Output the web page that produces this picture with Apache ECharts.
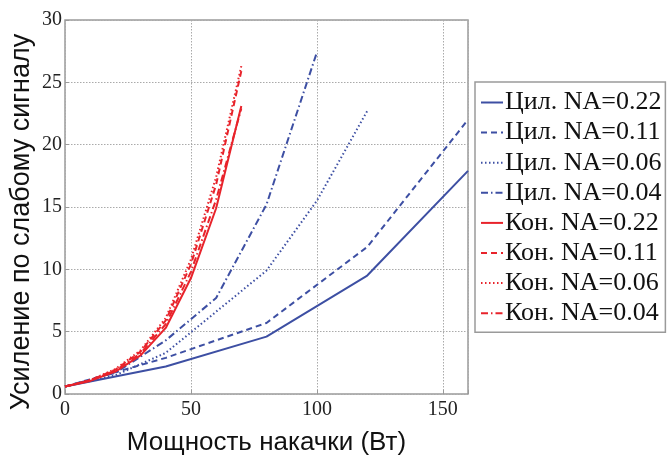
<!DOCTYPE html>
<html>
<head>
<meta charset="utf-8">
<script src="https://cdn.jsdelivr.net/npm/echarts@6/dist/echarts.min.js"></script>
<style>
  html, body { margin: 0; padding: 0; background: #fff; }
  #chart { width: 669px; height: 461px; }
</style>
</head>
<body>
<div id="chart"></div>
<script>
// Pump power (W) and small-signal gain for cylindrical and tapered fibers
const cylPower = [0, 40, 80, 120, 160];
const cyl022 = [0.6, 2.2, 4.6, 9.5, 17.9];
const cyl011 = [0.6, 2.9, 5.7, 11.8, 22.0];

const cyl006Power = [0, 20, 40, 60, 80, 100, 120];
const cyl006 = [0.6, 1.5, 3.3, 6.6, 9.9, 15.5, 22.7];

const cyl004Power = [0, 20, 40, 60, 80, 100];
const cyl004 = [0.6, 1.7, 4.3, 7.7, 15.2, 27.4];

const conPower = [0, 10, 20, 30, 40, 50, 60, 70];
const con022 = [0.6, 1.05, 1.8, 3.1, 5.3, 9.3, 14.9, 23.1];
const con011 = [0.6, 1.1, 1.95, 3.4, 5.9, 10.4, 16.8, 25.9];
const con006 = [0.6, 1.12, 2.0, 3.5, 6.1, 10.8, 17.4, 26.3];
const con004 = [0.6, 1.08, 1.88, 3.25, 5.6, 9.8, 15.6, 22.9];

const xTicks = [0, 50, 100, 150];
const yTicks = [0, 5, 10, 15, 20, 25, 30];

const names = [
  'Цил. NA=0.22', 'Цил. NA=0.11', 'Цил. NA=0.06', 'Цил. NA=0.04',
  'Кон. NA=0.22', 'Кон. NA=0.11', 'Кон. NA=0.06', 'Кон. NA=0.04'
];
const yTitle = 'Усиление по слабому сигналу';

const BLUE = '#3d4fa3';
const RED = '#e8232b';
const DASH = [6, 4];
const DOT = [1.5, 2.5];
const DASHDOT = [7, 3, 1.5, 3];

function pairs(xs, ys) { return xs.map((x, i) => [x, ys[i]]); }

function line(name, xs, ys, color, type, width) {
  return {
    name: name,
    type: 'line',
    data: pairs(xs, ys),
    symbol: 'none',
    smooth: false,
    animation: false,
    lineStyle: { color: color, width: width, type: type },
    itemStyle: { color: color }
  };
}

const series = [
  line(names[0], cylPower, cyl022, BLUE, 'solid', 2),
  line(names[1], cylPower, cyl011, BLUE, DASH, 2),
  line(names[2], cyl006Power, cyl006, BLUE, DOT, 2),
  line(names[3], cyl004Power, cyl004, BLUE, DASHDOT, 2),
  line(names[4], conPower, con022, RED, 'solid', 2),
  line(names[5], conPower, con011, RED, DASH, 2),
  line(names[6], conPower, con006, RED, DOT, 2),
  line(names[7], conPower, con004, RED, DASHDOT, 2)
];

const chart = echarts.init(document.getElementById('chart'), null, { renderer: 'canvas' });

chart.setOption({
  backgroundColor: '#fff',
  animation: false,
  grid: { left: 65, right: 201, top: 20, bottom: 53, show: true, borderColor: '#9a9a9a', borderWidth: 1.5 },
  graphic: [{
    type: 'text',
    x: 22,
    y: 222,
    rotation: Math.PI / 2,
    style: {
      text: yTitle,
      fontFamily: 'Liberation Sans',
      fontSize: 27,
      fill: '#111',
      textAlign: 'center',
      textVerticalAlign: 'middle'
    }
  }],
  legend: {
    data: names,
    orient: 'vertical',
    left: 475,
    top: 82,
    itemWidth: 22,
    itemHeight: 12,
    itemGap: 4.1,
    padding: [7.5, 4, 6, 5],
    borderColor: '#9a9a9a',
    borderWidth: 1.5,
    backgroundColor: '#fff',
    itemStyle: { opacity: 0 },
    textStyle: { fontFamily: 'Liberation Serif', fontSize: 26, color: '#111', lineHeight: 25, padding: [0, 0, 0, -3] }
  },
  xAxis: {
    type: 'value',
    min: 0,
    max: 160,
    interval: 50,
    name: 'Мощность накачки (Вт)',
    nameLocation: 'middle',
    nameGap: 36,
    nameTextStyle: { fontFamily: 'Liberation Sans', fontSize: 26, color: '#111' },
    axisLine: { show: false },
    axisTick: { show: true, inside: true, length: 4, lineStyle: { color: '#9a9a9a' } },
    axisLabel: {
      fontFamily: 'Liberation Serif', fontSize: 20, color: '#222', margin: 6,
      formatter: v => (xTicks.indexOf(v) >= 0 ? String(v) : '')
    },
    splitLine: { show: true, lineStyle: { color: '#aaaaaa', type: [1.5, 1.5], width: 1 } }
  },
  yAxis: {
    type: 'value',
    min: 0,
    max: 30,
    interval: 5,
    axisLine: { show: false },
    axisTick: { show: true, inside: true, length: 4, lineStyle: { color: '#9a9a9a' } },
    axisLabel: {
      fontFamily: 'Liberation Serif', fontSize: 20, color: '#222', margin: 3,
      formatter: v => (yTicks.indexOf(v) >= 0 ? String(v) : '')
    },
    splitLine: { show: true, lineStyle: { color: '#aaaaaa', type: [1.5, 1.5], width: 1 } }
  },
  series: series
});
</script>
</body>
</html>
